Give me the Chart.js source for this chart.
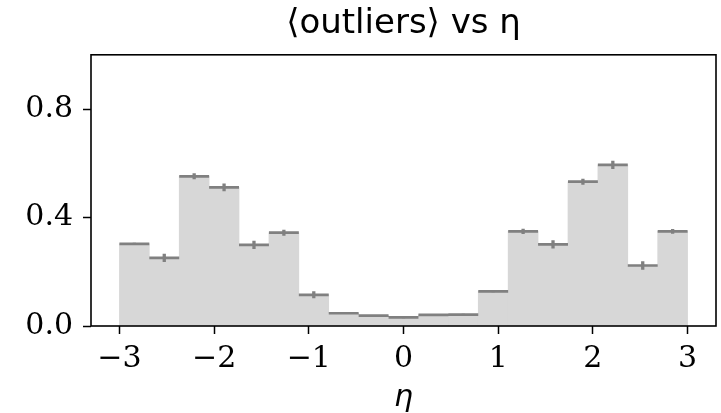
<!DOCTYPE html>
<html>
<head>
<meta charset="utf-8">
<script src="https://cdn.jsdelivr.net/npm/chart.js@4"></script>
<style>
  html, body { margin: 0; padding: 0; background: #ffffff; }
  #wrap { width: 721px; height: 413px; }
</style>
</head>
<body>
<div id="wrap"><canvas id="c" width="721" height="413"></canvas></div>
<script>
// Histogram definition
const etaMin = -3;
const etaMax = 3;
const nBins = 19;
// Mean number of outliers per bin
const meanOutliers = [0.303, 0.251, 0.552, 0.511, 0.299, 0.344, 0.115, 0.047, 0.038, 0.032,
                      0.041, 0.042, 0.128, 0.349, 0.301, 0.532, 0.594, 0.223, 0.349];
// Half-length of the error bars
const errOutliers = [0.004, 0.015, 0.011, 0.014, 0.015, 0.011, 0.013, 0.003, 0.003, 0.003,
                     0.003, 0.003, 0.004, 0.010, 0.015, 0.011, 0.015, 0.016, 0.009];
// Tick labels
const xTicks = [-3, -2, -1, 0, 1, 2, 3];
const yTicks = [0.0, 0.4, 0.8];

const binWidth = (etaMax - etaMin) / nBins;
const centers = meanOutliers.map((_, i) => etaMin + (i + 0.5) * binWidth);

const barData = meanOutliers.map((v, i) => ({ x: centers[i], y: v }));
const stepData = [];
const errData = [];
meanOutliers.forEach((v, i) => {
  const lo = etaMin + i * binWidth, hi = lo + binWidth;
  stepData.push({ x: lo, y: v }, { x: hi, y: v }, { x: hi, y: null });
  errData.push({ x: centers[i], y: v - errOutliers[i] }, { x: centers[i], y: v + errOutliers[i] }, { x: centers[i], y: null });
});

const frame = {
  id: 'frame',
  afterLayout(chart) {
    // centre the title over the plot area, as matplotlib does
    const t = chart.titleBlock, a = chart.chartArea;
    if (t && a) { t.left = a.left; t.right = a.right; }
  },
  afterDraw(chart) {
    const a = chart.chartArea, ctx = chart.ctx;
    ctx.save();
    ctx.strokeStyle = '#000';
    ctx.lineWidth = 1.6;
    ctx.strokeRect(a.left, a.top, a.right - a.left, a.bottom - a.top);
    ctx.restore();
  }
};

const fmtMinus = v => (v < 0 ? '\u2212' + Math.abs(v) : String(v));

new Chart(document.getElementById('c'), {
  data: {
    datasets: [
      { type: 'line', label: 'errors', data: errData, borderColor: '#808080', borderWidth: 3.3,
        pointRadius: 0, spanGaps: false, order: 1, borderCapStyle: 'butt' },
      { type: 'line', label: 'mean', data: stepData, borderColor: '#808080', borderWidth: 2.7,
        pointRadius: 0, spanGaps: false, order: 2, borderCapStyle: 'butt' },
      { type: 'bar', label: 'fill', data: barData, backgroundColor: '#d7d7d7', borderWidth: 0,
        barPercentage: 1, categoryPercentage: 1, grouped: false, order: 3 }
    ]
  },
  options: {
    responsive: false,
    animation: false,
    devicePixelRatio: 1,
    layout: { padding: { left: 0, right: 5, top: 0, bottom: 0 } },
    plugins: {
      legend: { display: false },
      tooltip: { enabled: false },
      title: {
        display: true,
        text: '\u27E8outliers\u27E9 vs \u03B7',
        color: '#000',
        font: { family: 'DejaVu Sans', size: 34, weight: 'normal' },
        padding: { top: 4, bottom: 10 }
      }
    },
    scales: {
      x: {
        type: 'linear',
        offset: false,
        min: -3.3, max: 3.3,
        afterBuildTicks: s => { s.ticks = xTicks.map(v => ({ value: v })); },
        afterFit: s => { s.height = 87; },
        ticks: { color: '#000', font: { family: 'DejaVu Serif', size: 30 }, padding: 7,
                 maxRotation: 0, autoSkip: false, callback: v => fmtMinus(v) },
        grid: { display: true, offset: false, drawOnChartArea: false, drawTicks: true, tickLength: 8,
                tickColor: '#000', tickWidth: 1.5 },
        border: { display: false },
        title: { display: true, text: '\u03B7', color: '#000',
                 font: { family: 'DejaVu Sans', size: 30, style: 'italic', lineHeight: 1.0 },
                 padding: { top: 0, bottom: 0 } }
      },
      y: {
        type: 'linear',
        min: 0, max: 1.0,
        afterBuildTicks: s => { s.ticks = yTicks.map(v => ({ value: v })); },
        afterFit: s => { s.width = 91; },
        ticks: { color: '#000', font: { family: 'DejaVu Serif', size: 30 }, padding: 10,
                 callback: v => v.toFixed(1) },
        grid: { display: true, drawOnChartArea: false, drawTicks: true, tickLength: 8,
                tickColor: '#000', tickWidth: 1.5 },
        border: { display: false }
      }
    }
  },
  plugins: [frame]
});
</script>
</body>
</html>
